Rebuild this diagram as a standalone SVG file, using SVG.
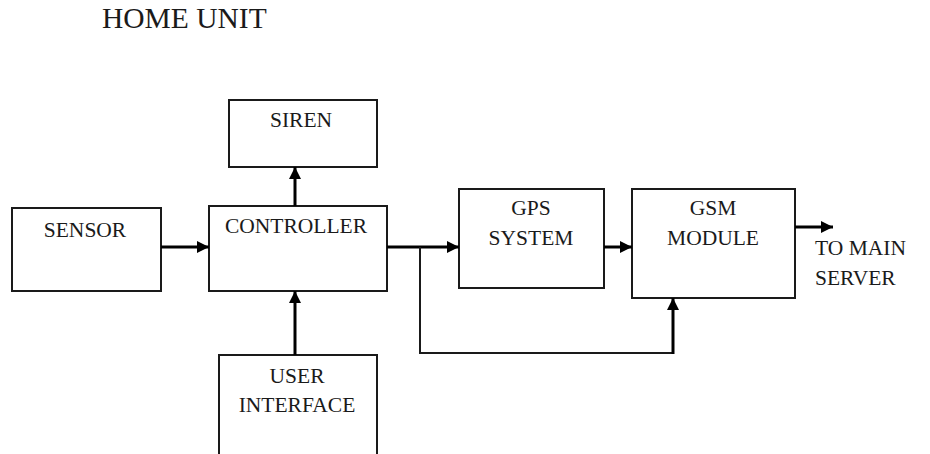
<svg xmlns="http://www.w3.org/2000/svg" width="930" height="454" viewBox="0 0 930 454">
  <style>
    .box { fill: #ffffff; stroke: #1a1a1a; stroke-width: 2; }
    .lbl { font-family: "Liberation Serif", "Times New Roman", serif; font-size: 21.5px; fill: #1a1a1a; text-anchor: middle; }
    .title { font-family: "Liberation Serif", "Times New Roman", serif; font-size: 29.5px; fill: #1a1a1a; }
    .wire { fill: none; stroke: #000; stroke-width: 3; }
    .thin { fill: none; stroke: #1a1a1a; stroke-width: 2; }
  </style>
  <defs>
    <marker id="arrow" markerWidth="12" markerHeight="12" refX="12" refY="6" orient="auto" markerUnits="userSpaceOnUse">
      <path d="M0,0 L12,6 L0,12 Z" fill="#000"/>
    </marker>
  </defs>

  <text class="title" x="102" y="28">HOME UNIT</text>

  <g id="siren">
    <rect class="box" x="229" y="100" width="148" height="67"/>
    <text class="lbl" x="301" y="127">SIREN</text>
  </g>
  <g id="sensor">
    <rect class="box" x="12" y="208" width="149" height="83"/>
    <text class="lbl" x="85" y="237">SENSOR</text>
  </g>
  <g id="controller">
    <rect class="box" x="209" y="206" width="178" height="85"/>
    <text class="lbl" x="296" y="233">CONTROLLER</text>
  </g>
  <g id="user-interface">
    <rect class="box" x="219" y="355" width="158" height="110"/>
    <text class="lbl" x="297" y="383">USER</text>
    <text class="lbl" x="297" y="412">INTERFACE</text>
  </g>
  <g id="gps">
    <rect class="box" x="459" y="189" width="145" height="99"/>
    <text class="lbl" x="531" y="215">GPS</text>
    <text class="lbl" x="531" y="245">SYSTEM</text>
  </g>
  <g id="gsm">
    <rect class="box" x="632" y="189" width="163" height="109"/>
    <text class="lbl" x="713" y="215">GSM</text>
    <text class="lbl" x="713" y="245">MODULE</text>
  </g>
  <g id="server-label">
    <text class="lbl" x="815" y="255" style="text-anchor:start">TO MAIN</text>
    <text class="lbl" x="815" y="285" style="text-anchor:start">SERVER</text>
  </g>

  <g id="connectors">
    <line class="wire" x1="161" y1="247" x2="209" y2="247" marker-end="url(#arrow)"/>
    <line class="wire" x1="295" y1="206" x2="295" y2="167" marker-end="url(#arrow)"/>
    <line class="wire" x1="295" y1="355" x2="295" y2="291" marker-end="url(#arrow)"/>
    <line class="wire" x1="387" y1="247" x2="459" y2="247" marker-end="url(#arrow)"/>
    <line class="wire" x1="604" y1="247" x2="632" y2="247" marker-end="url(#arrow)"/>
    <line class="wire" x1="795" y1="227" x2="833" y2="227" marker-end="url(#arrow)"/>
    <polyline class="thin" points="420,247 420,353 673,353"/>
    <line class="wire" x1="673" y1="354" x2="673" y2="298" marker-end="url(#arrow)"/>
  </g>
</svg>
